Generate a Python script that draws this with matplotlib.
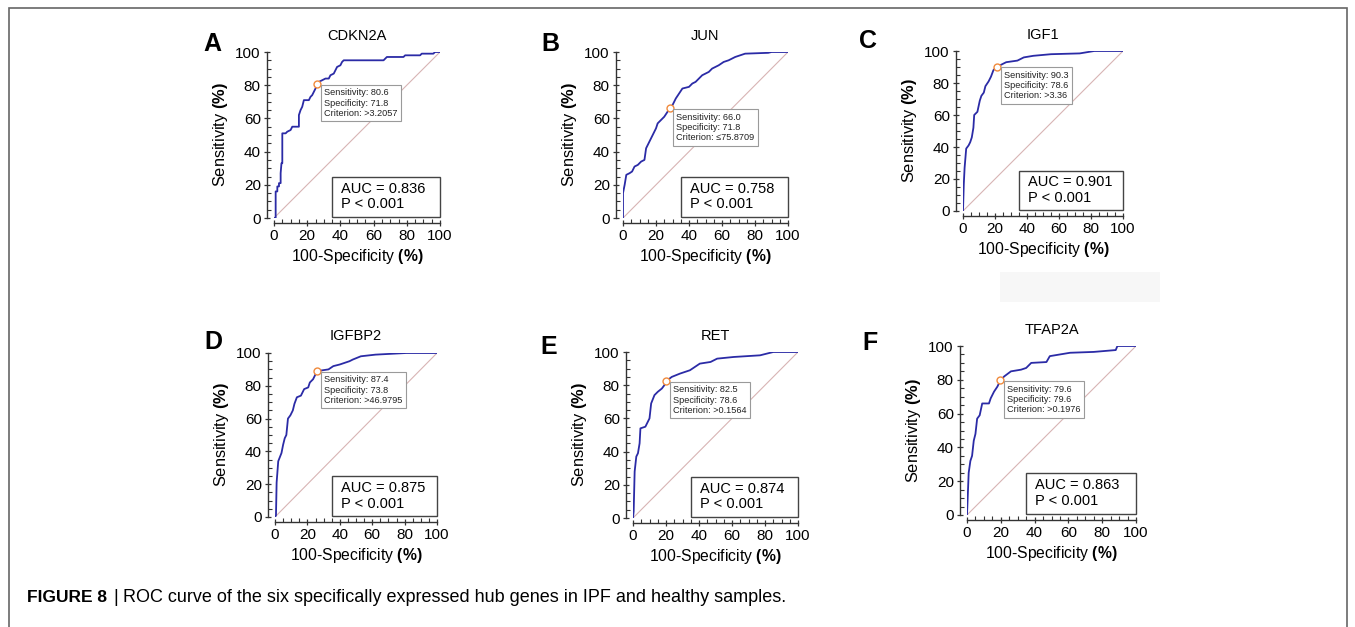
import matplotlib
matplotlib.use("Agg")
import matplotlib.pyplot as plt
from matplotlib.patches import Rectangle
from matplotlib.ticker import MultipleLocator

plt.rcParams["font.family"] = ["Liberation Sans", "DejaVu Sans"]
plt.rcParams["mathtext.fontset"] = "custom"
plt.rcParams["mathtext.rm"] = "Liberation Sans"
plt.rcParams["mathtext.bf"] = "Liberation Sans:bold"

# ROC curves, (100-specificity, sensitivity) in %
roc_cdkn2a = [(0, 0), (1, 0), (1, 16), (2, 16), (2, 19), (3, 19), (3, 21), (4, 21), (4, 27),
              (4.5, 33), (5, 33), (5, 51), (7, 51), (8, 52), (10, 53), (11, 55), (15, 55),
              (15, 62), (16, 65), (17, 67), (18, 71), (21, 71), (22, 73), (23, 74), (24, 76),
              (25, 78), (26, 80.6), (27, 82), (29, 83), (31, 84), (33, 84), (34, 86), (36, 87),
              (37, 89), (38, 91), (40, 92), (41, 94), (42, 95), (66, 95), (67, 96), (68, 97),
              (78, 97), (79, 98), (88, 98), (89, 99), (96, 99), (97, 100), (100, 100)]
roc_jun = [(0, 0), (0, 15), (1, 20), (2, 26), (4, 27), (5.5, 28), (7, 31), (9, 32), (11, 34),
           (13, 35), (14, 42), (15, 44), (17, 48), (18, 50), (20, 54), (21, 57), (23, 59),
           (25, 61), (27, 64), (28.2, 66), (30, 68), (32, 72), (34, 75), (36, 78), (40, 79),
           (42, 81), (44, 82), (46, 84), (48, 86), (52, 88), (54, 90), (58, 92), (61, 94),
           (64, 95), (68, 97), (74, 99), (88, 99.5), (90, 100), (100, 100)]
roc_igf1 = [(0, 0), (0.5, 17), (1, 27), (2, 39), (3.5, 41), (4.5, 43), (5.5, 46), (6.5, 52),
            (7, 60), (9, 62), (10.5, 69), (11.5, 72), (13, 74), (14, 78), (16, 81), (17.5, 84),
            (19, 88), (21.3, 90.3), (23, 91), (27, 93), (34, 94), (38, 96), (44, 97), (55, 98),
            (73, 98.5), (82, 100), (100, 100)]
roc_igfbp2 = [(0, 0), (0.6, 1), (1, 21), (2, 34), (4, 39), (5, 44), (6, 48), (7, 50), (8, 60),
              (9.5, 62), (11, 65), (12, 69), (13.5, 73), (16, 74), (18, 78), (20.5, 79),
              (21.5, 82), (23.5, 84), (25, 87), (26.2, 89), (33, 90), (36, 92), (40, 93),
              (46, 95), (48, 96), (53, 98), (62, 99), (81, 100), (100, 100)]
roc_ret = [(0, 0), (0.4, 4), (1, 28), (2, 37), (3, 39), (4, 45), (4.5, 54), (7.5, 55), (9, 58),
           (10, 60), (11, 69), (13, 74), (15, 76), (17.5, 78), (19, 80), (20.2, 82.5),
           (23.5, 85), (28.5, 87), (34.5, 89), (40.5, 93), (47, 94), (51, 96), (61, 97),
           (77, 98), (85, 100), (100, 100)]
roc_tfap2a = [(0, 0), (0.4, 10), (1, 25), (2, 32), (3, 35), (4, 44), (5, 48), (6, 57),
              (7.5, 59), (9, 66), (13, 66), (14, 69), (16, 73), (18, 76), (19.7, 79.6), (22, 82),
              (26, 85), (32, 86), (35, 87), (38, 90), (47, 90.5), (49, 94), (55, 95), (61, 96),
              (75, 96.5), (88, 97.6), (89, 100), (100, 100)]

genes = ["CDKN2A", "JUN", "IGF1", "IGFBP2", "RET", "TFAP2A"]
letters = ["A", "B", "C", "D", "E", "F"]
curves = [roc_cdkn2a, roc_jun, roc_igf1, roc_igfbp2, roc_ret, roc_tfap2a]
auc = ["0.836", "0.758", "0.901", "0.875", "0.874", "0.863"]
sens = ["80.6", "66.0", "90.3", "87.4", "82.5", "79.6"]
spec = ["71.8", "71.8", "78.6", "73.8", "78.6", "79.6"]
criterion = [">3.2057", "\u226475.8709", ">3.36", ">46.9795", ">0.1564", ">0.1976"]
cut_x = [26, 28.2, 21.3, 26.2, 20.2, 19.7]
cut_y = [80.6, 66, 90.3, 89, 82.5, 79.6]

W, H = 1355, 627
fig = plt.figure(figsize=(W / 100, H / 100), dpi=100)

# axes boxes in pixels: left, top, right, bottom of the 0..100 data area
boxes = [(274, 52, 440, 218), (623, 52, 788, 218), (963, 51, 1123, 211),
         (275, 353, 437, 517), (633, 352, 798, 518), (967, 346, 1136, 515)]
letter_pos = [(212, 44), (550, 44), (868, 41), (213, 342), (549, 347), (870, 343)]

for i, (l, t, r, b) in enumerate(boxes):
    ax = fig.add_axes([l / W, 1 - b / H, (r - l) / W, (b - t) / H])
    xs = [p[0] for p in curves[i]]
    ys = [p[1] for p in curves[i]]
    ax.plot([0, 100], [0, 100], color="#d8b4b4", lw=0.8, zorder=1)
    ax.plot(xs, ys, color="#2b2ba6", lw=1.3, zorder=3)
    ax.plot(cut_x[i], cut_y[i], "o", mfc="white", mec="#f08a3c", ms=5, mew=1.0, zorder=4)

    ax.annotate("Sensitivity: %s\nSpecificity: %s\nCriterion: %s" % (sens[i], spec[i], criterion[i]),
                (cut_x[i], cut_y[i]), xytext=(5, -3), textcoords="offset points",
                ha="left", va="top", fontsize=6.6, linespacing=1.2, color="#222222",
                bbox=dict(boxstyle="square,pad=0.35", fc="white", ec="#9a9a9a", lw=0.8),
                zorder=5)

    ax.add_patch(Rectangle((35, 0.5), 65, 24.5, fill=False, ec="#444444", lw=1.0,
                           clip_on=False, zorder=5))
    ax.text(40.5, 13, "AUC = %s\nP < 0.001" % auc[i], fontsize=10.5, ha="left", va="center",
            linespacing=1.15, zorder=6)

    ax.set_xlim(0, 100)
    ax.set_ylim(0, 100)
    for s in ["top", "right"]:
        ax.spines[s].set_visible(False)
    ax.spines["left"].set_position(("outward", 5))
    ax.spines["bottom"].set_position(("outward", 3.6))
    for s in ["left", "bottom"]:
        ax.spines[s].set_color("#333333")
        ax.spines[s].set_linewidth(1.0)
    ax.xaxis.set_major_locator(MultipleLocator(20))
    ax.yaxis.set_major_locator(MultipleLocator(20))
    ax.xaxis.set_minor_locator(MultipleLocator(5))
    ax.yaxis.set_minor_locator(MultipleLocator(5))
    ax.tick_params(which="major", direction="inout", length=5, width=0.9, labelsize=11,
                   pad=2, color="#333333")
    ax.tick_params(which="minor", direction="in", length=3, width=0.8, color="#333333")

    ax.set_xlabel(r"100-Specificity $\mathbf{(\%)}$", fontsize=11.3, labelpad=3)
    ax.set_ylabel(r"Sensitivity $\mathbf{(\%)}$", fontsize=11.8, labelpad=4)
    ax.set_title(genes[i], fontsize=10.5, pad=9)

    fig.text(letter_pos[i][0] / W, 1 - letter_pos[i][1] / H, letters[i], fontsize=18,
             fontweight="bold", ha="center", va="center")

# faint patch and outer frame
fig.patches.append(Rectangle((1000 / W, 1 - 302 / H), 160 / W, 30 / H, transform=fig.transFigure,
                             fc="#f7f7f7", ec="none", zorder=0))
fig.patches.append(Rectangle((9 / W, -0.02), (1347 - 9) / W, 1 - 8 / H + 0.02,
                             transform=fig.transFigure, fill=False, ec="#666666", lw=1.2))

# caption: bold label, thin bar, then the sentence
cap_y = 1 - 597 / H
t1 = fig.text(27 / W, cap_y, "FIGURE 8", fontsize=12.5, fontweight="bold", va="center")
fig.canvas.draw()
bb = t1.get_window_extent()
t2 = fig.text((bb.x1 + 6) / W, cap_y, "|", fontsize=13, va="center")
fig.canvas.draw()
bb = t2.get_window_extent()
fig.text((bb.x1 + 5) / W, cap_y,
         "ROC curve of the six specifically expressed hub genes in IPF and healthy samples.",
         fontsize=13, va="center")

fig.savefig("out.png", dpi=100)
